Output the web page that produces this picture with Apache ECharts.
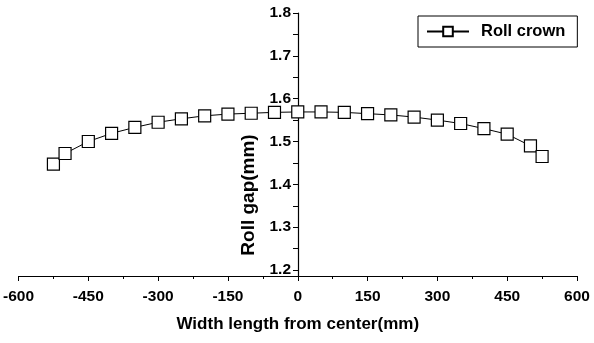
<!DOCTYPE html>
<html>
<head>
<meta charset="utf-8">
<script src="https://cdn.jsdelivr.net/npm/echarts@6/dist/echarts.min.js"></script>
<style>
  html, body { margin: 0; padding: 0; background: #fff; }
  #chart { width: 594px; height: 343px; }
</style>
</head>
<body>
<div id="chart"></div>
<script>
// positions across the strip width (mm)
const widthPos = [-525, -500, -450, -400, -350, -300, -250, -200, -150, -100, -50, 0,
  50, 100, 150, 200, 250, 300, 350, 400, 450, 500, 525];
// roll gap (mm)
const rollGap = [1.447, 1.472, 1.500, 1.519, 1.533, 1.545, 1.553, 1.560, 1.564, 1.566, 1.568, 1.569,
  1.569, 1.568, 1.565, 1.562, 1.557, 1.550, 1.542, 1.530, 1.517, 1.490, 1.465];
const yMajor = [1.2, 1.3, 1.4, 1.5, 1.6, 1.7, 1.8];
const yTicks = [1.2, 1.25, 1.3, 1.35, 1.4, 1.45, 1.5, 1.55, 1.6, 1.65, 1.7, 1.75, 1.8];

const font = 'Liberation Sans, Arial, sans-serif';
const gridLeft = 18;
const gridRight = 17;
const chart = echarts.init(document.getElementById('chart'));
// y axis sits on x = 0, i.e. half way across the grid
const yOffset = -(594 - gridLeft - gridRight) / 2;

chart.setOption({
  animation: false,
  backgroundColor: '#fff',
  grid: { left: gridLeft, right: gridRight, top: 13, bottom: 67 },
  legend: {
    left: 418,
    top: 16,
    itemWidth: 42,
    itemHeight: 12,
    padding: [7, 12, 7, 8],
    borderColor: '#000',
    borderWidth: 1,
    borderRadius: 0,
    textStyle: { fontFamily: font, fontWeight: 'bold', fontSize: 16.5, color: '#000', padding: [0, 0, 0, 7] },
    data: ['Roll crown']
  },
  xAxis: {
    type: 'value',
    min: -600,
    max: 600,
    interval: 150,
    name: 'Width length from center(mm)',
    nameLocation: 'middle',
    nameGap: 40,
    nameTextStyle: { fontFamily: font, fontWeight: 'bold', fontSize: 17, color: '#000' },
    axisLine: { onZero: false, lineStyle: { color: '#000', width: 1.2 } },
    axisTick: { length: 5, lineStyle: { color: '#000' } },
    minorTick: { show: true, splitNumber: 2, length: 3, lineStyle: { color: '#000' } },
    axisLabel: { margin: 13, fontFamily: font, fontWeight: 'bold', fontSize: 15.5, color: '#000' },
    splitLine: { show: false }
  },
  yAxis: {
    type: 'value',
    min: 1.186,
    max: 1.8,
    offset: yOffset,
    axisLine: { onZero: false, lineStyle: { color: '#000', width: 1.2 } },
    axisTick: { length: 5, customValues: yTicks, lineStyle: { color: '#000' } },
    axisLabel: {
      customValues: yMajor,
      margin: 7,
      fontFamily: font,
      fontWeight: 'bold',
      fontSize: 15.5,
      color: '#000',
      formatter: v => v.toFixed(1)
    },
    splitLine: { show: false }
  },
  graphic: [{
    type: 'text',
    x: 249,
    y: 195,
    rotation: Math.PI / 2,
    style: {
      text: 'Roll gap(mm)',
      fontFamily: font,
      fontWeight: 'bold',
      fontSize: 19,
      fill: '#000',
      align: 'center',
      verticalAlign: 'middle'
    }
  }],
  series: [{
    name: 'Roll crown',
    type: 'line',
    data: widthPos.map((x, i) => [x, rollGap[i]]),
    symbol: 'rect',
    symbolSize: 12,
    showAllSymbol: true,
    lineStyle: { color: '#000', width: 1 },
    itemStyle: { color: '#fff', borderColor: '#000', borderWidth: 1.2 }
  }]
});
</script>
</body>
</html>
